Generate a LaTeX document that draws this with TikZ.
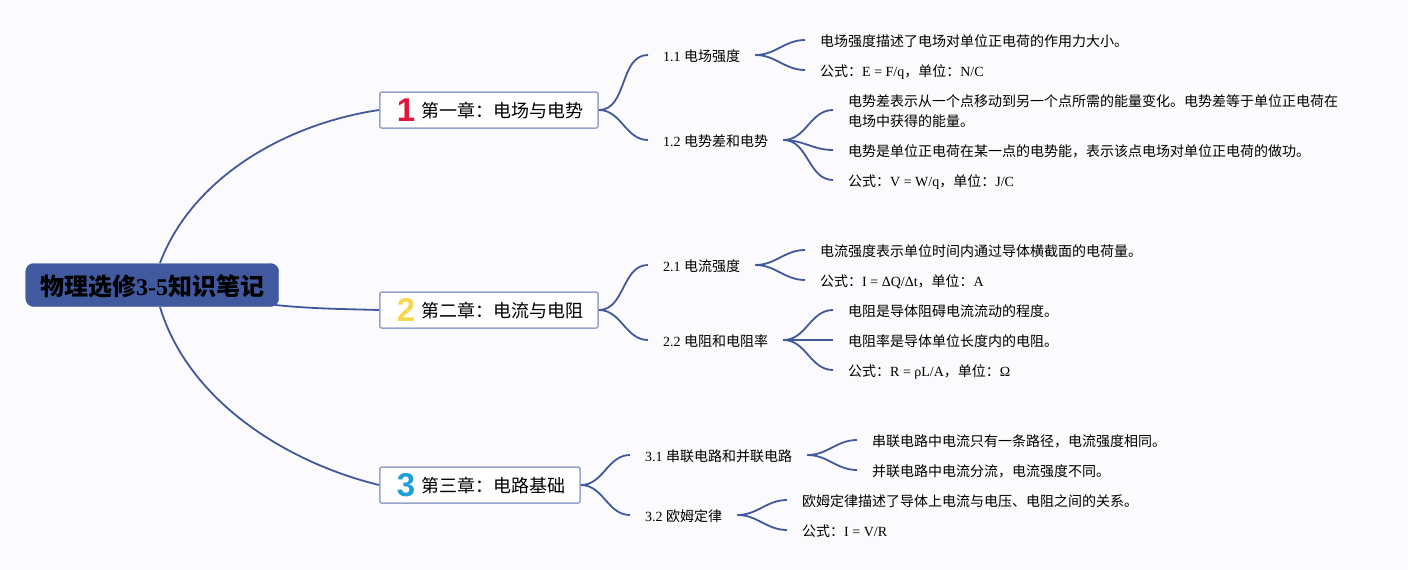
\documentclass[tikz,border=0pt]{standalone}
\usepackage{fontspec}
\setmainfont{Liberation Serif}
\setsansfont{Liberation Sans}
\newfontfamily\cjk{Noto Sans CJK SC}
\usepackage{tikz}
\definecolor{pagegray}{HTML}{FBFBFE}
\definecolor{linkblue}{HTML}{41599B}
\definecolor{rootblue}{HTML}{40599F}
\definecolor{boxblue}{HTML}{97A3CA}
\definecolor{numred}{HTML}{E0173C}
\definecolor{numyellow}{HTML}{F5D84F}
\definecolor{numblue}{HTML}{1E9FDC}
\newcommand{\chapnum}[2]{\raisebox{-4pt}{\textcolor{#1}{\fontsize{33}{33}\sffamily\bfseries #2}}\hspace{6pt}}
\newcommand{\cncolon}{\char"FF1A\relax}
\newcommand{\cncomma}{\char"FF0C\relax}
\tikzset{
    link/.style={linkblue, line width=1.8pt},
    rootnode/.style={fill=rootblue, draw=rootblue, rounded corners=8pt, minimum width=253pt, minimum height=43pt, text height=21pt, text depth=1pt, anchor=west, inner sep=0pt, font=\fontsize{24}{24}\selectfont\bfseries},
    chapnode/.style={fill=white, draw=boxblue, line width=1.5pt, rounded corners=2pt, minimum height=36pt, text height=14pt, text depth=0pt, anchor=west, inner xsep=15pt, inner ysep=0pt, font=\fontsize{18}{18}\selectfont},
    subnode/.style={anchor=west, inner xsep=15pt, inner ysep=1pt, text height=14pt, text depth=1.4pt, font=\fontsize{14}{20}\selectfont},
    leafnode/.style={subnode, align=left}
}
\begin{document}
\begin{tikzpicture}[x=1pt,y=-1pt]
    \fill[pagegray] (0,0) rectangle (1408,570);
    \useasboundingbox (0,0) rectangle (1408,570);

    \node[rootnode] (root) at (25.5,285) {{\cjk 物理选修}3-5{\cjk 知识笔记}};
    \coordinate (rootup) at (160,263);
    \coordinate (rootright) at (275,305);
    \coordinate (rootdown) at (160,307);

    \node[chapnode] (ch1) at (379,110) {\hspace{2pt}\chapnum{numred}{1}{\cjk 第一章\cncolon 电场与电势}};
    \node[chapnode] (ch2) at (379,310) {\hspace{2pt}\chapnum{numyellow}{2}{\cjk 第二章\cncolon 电流与电阻}};
    \node[chapnode] (ch3) at (379,485) {\hspace{2pt}\chapnum{numblue}{3}{\cjk 第三章\cncolon 电路基础}};

    \node[subnode] (s11) at (648,55) {1.1 {\cjk 电场强度}};
    \node[subnode] (s12) at (648,140) {1.2 {\cjk 电势差和电势}};
    \node[subnode] (s21) at (648,265) {2.1 {\cjk 电流强度}};
    \node[subnode] (s22) at (648,340) {2.2 {\cjk 电阻和电阻率}};
    \node[subnode] (s31) at (630,455) {3.1 {\cjk 串联电路和并联电路}};
    \node[subnode] (s32) at (630,515) {3.2 {\cjk 欧姆定律}};

    \node[leafnode] (l111) at (805,40) {{\cjk 电场强度描述了电场对单位正电荷的作用力大小。}};
    \node[leafnode] (l112) at (805,70) {{\cjk 公式\cncolon}E = F/q{\cjk \cncomma 单位\cncolon}N/C};
    \node[leafnode, text height=34pt] (l121) at (833,110) {{\cjk 电势差表示从一个点移动到另一个点所需的能量变化。电势差等于单位正电荷在}\\{\cjk 电场中获得的能量。}};
    \node[leafnode] (l122) at (833,150) {{\cjk 电势是单位正电荷在某一点的电势能\cncomma 表示该点电场对单位正电荷的做功。}};
    \node[leafnode] (l123) at (833,180) {{\cjk 公式\cncolon}V = W/q{\cjk \cncomma 单位\cncolon}J/C};
    \node[leafnode] (l211) at (805,250) {{\cjk 电流强度表示单位时间内通过导体横截面的电荷量。}};
    \node[leafnode] (l212) at (805,280) {{\cjk 公式\cncolon}I = ΔQ/Δt{\cjk \cncomma 单位\cncolon}A};
    \node[leafnode] (l221) at (833,310) {{\cjk 电阻是导体阻碍电流流动的程度。}};
    \node[leafnode] (l222) at (833,340) {{\cjk 电阻率是导体单位长度内的电阻。}};
    \node[leafnode] (l223) at (833,370) {{\cjk 公式\cncolon}R = ρL/A{\cjk \cncomma 单位\cncolon}Ω};
    \node[leafnode] (l311) at (857,440) {{\cjk 串联电路中电流只有一条路径\cncomma 电流强度相同。}};
    \node[leafnode] (l312) at (857,470) {{\cjk 并联电路中电流分流\cncomma 电流强度不同。}};
    \node[leafnode] (l321) at (787,500) {{\cjk 欧姆定律描述了导体上电流与电压、电阻之间的关系。}};
    \node[leafnode] (l322) at (787,530) {{\cjk 公式\cncolon}I = V/R};

    \draw[link] (rootup) .. controls (192,178) and (285,124) .. (ch1.west);
    \draw[link] (rootright) .. controls (315,309) and (345,309) .. (ch2.west);
    \draw[link] (rootdown) .. controls (188,400) and (285,462) .. (ch3.west);

    \foreach \a/\b in {ch1/s11,ch1/s12,ch2/s21,ch2/s22,ch3/s31,ch3/s32,
        s11/l111,s11/l112,s12/l121,s12/l122,s12/l123,
        s21/l211,s21/l212,s22/l221,s22/l222,s22/l223,
        s31/l311,s31/l312,s32/l321,s32/l322}{
        \draw[link] (\a.east) to[out=0,in=180] (\b.west);
    }
\end{tikzpicture}
\end{document}
